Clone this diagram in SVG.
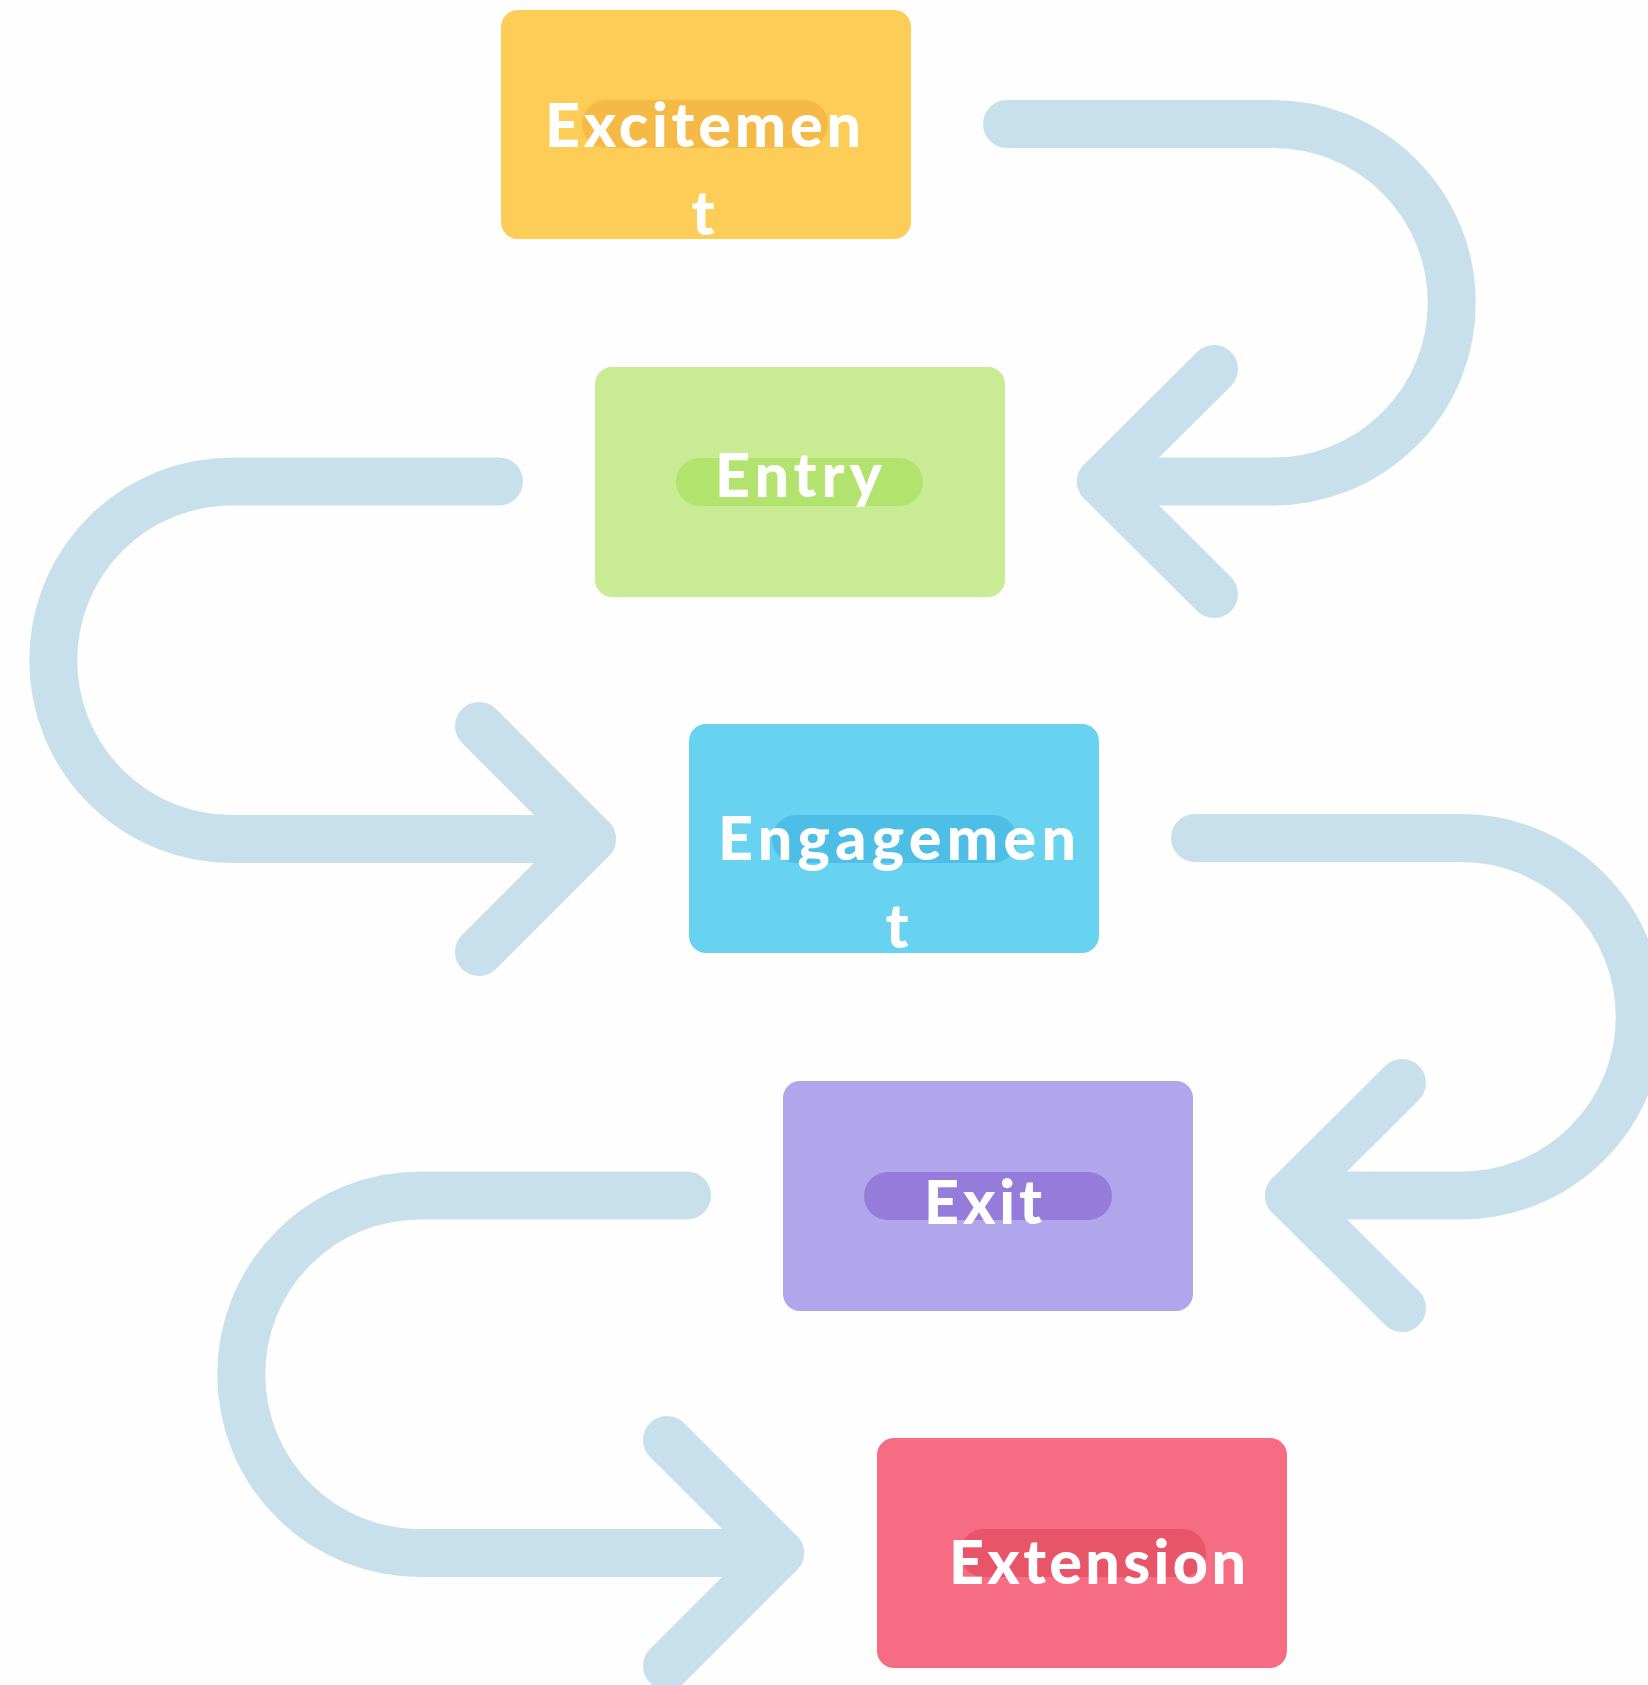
<svg xmlns="http://www.w3.org/2000/svg" width="1648" height="1685" viewBox="0 0 1648 1685">
  <style>
    .flow { fill: none; stroke: #C8E0EB; stroke-width: 48; stroke-linecap: round; stroke-linejoin: round; }
    .box { rx: 17; ry: 17; }
    .pill { rx: 24; ry: 24; }
    .label { font-family: "Lato", "Liberation Sans", sans-serif; font-weight: 900; font-size: 61px; fill: #FFFFFF; }
  </style>
  <rect x="0" y="0" width="1648" height="1685" fill="#FEFEFE"/>

  <!-- connectors: U-turn arrows linking the stages -->
  <g id="connectors">
    <path class="flow" d="M1007,124 H1273 A178.75,178.75 0 0 1 1273,481.5 H1101"/>
    <path class="flow" d="M1214,369 L1101,481.5 L1214,594"/>

    <path class="flow" d="M499,481.5 H232 A178.75,178.75 0 0 0 232,839 H592"/>
    <path class="flow" d="M479,726 L592,839 L479,952"/>

    <path class="flow" d="M1195,838 H1461 A178.75,178.75 0 0 1 1461,1195.5 H1289"/>
    <path class="flow" d="M1402,1083 L1289,1195.5 L1402,1308"/>

    <path class="flow" d="M687,1195.5 H420 A178.75,178.75 0 0 0 420,1553 H780"/>
    <path class="flow" d="M667,1440 L780,1553 L667,1666"/>
  </g>

  <g id="node-excitement">
    <rect class="box" x="501" y="10" width="410" height="229" fill="#FECD57"/>
    <rect class="pill" x="582" y="100" width="246" height="48" fill="#F5BA45"/>
    <text class="label" x="545" y="147" textLength="316" lengthAdjust="spacing">Excitemen</text>
    <text class="label" x="703" y="235" text-anchor="middle">t</text>
  </g>

  <g id="node-entry">
    <rect class="box" x="595" y="367" width="410" height="230" fill="#C8EB94"/>
    <rect class="pill" x="676" y="458" width="247" height="48" fill="#B1E36E"/>
    <text class="label" x="715" y="497" textLength="167" lengthAdjust="spacing">Entry</text>
  </g>

  <g id="node-engagement">
    <rect class="box" x="689" y="724" width="410" height="229" fill="#67D3F0"/>
    <rect class="pill" x="772" y="815" width="245" height="48" fill="#4DBEE6"/>
    <text class="label" x="718" y="860" textLength="358" lengthAdjust="spacing">Engagemen</text>
    <text class="label" x="897" y="948" text-anchor="middle">t</text>
  </g>

  <g id="node-exit">
    <rect class="box" x="783" y="1081" width="410" height="230" fill="#B1A5EB"/>
    <rect class="pill" x="864" y="1172" width="248" height="48" fill="#967CDA"/>
    <text class="label" x="924" y="1224" textLength="118" lengthAdjust="spacing">Exit</text>
  </g>

  <g id="node-extension">
    <rect class="box" x="877" y="1438" width="410" height="230" fill="#F66D83"/>
    <rect class="pill" x="960" y="1529" width="246" height="48" fill="#E85468"/>
    <text class="label" x="949" y="1584" textLength="297" lengthAdjust="spacing">Extension</text>
  </g>
</svg>
